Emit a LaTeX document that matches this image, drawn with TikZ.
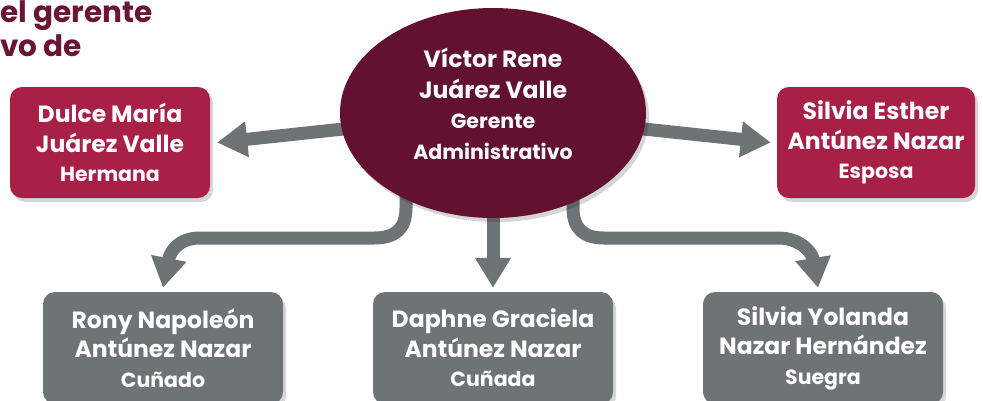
\documentclass[tikz,border=0pt]{standalone}
\usepackage{fontspec}
\setmainfont{Poppins}
\usetikzlibrary{arrows.meta,shapes.geometric,shadows,calc}
\definecolor{ceoC}{HTML}{621131}
\definecolor{redC}{HTML}{A81F48}
\definecolor{grayC}{HTML}{6E7476}
\definecolor{titleC}{HTML}{6B1534}
\newcommand{\rolefont}{\fontsize{20.5}{29}\selectfont}
\tikzset{
  shad/.style={drop shadow={shadow xshift=3pt,shadow yshift=-4pt,opacity=0.16,fill=black}},
  redbox/.style={shad,rectangle,rounded corners=12pt,fill=redC,text=white,align=center,inner sep=0pt,font=\bfseries\fontsize{23.5}{29.5}\selectfont},
  graybox/.style={shad,rectangle,rounded corners=12pt,fill=grayC,text=white,align=center,inner sep=0pt,minimum width=240pt,minimum height=112pt,font=\bfseries\fontsize{23.5}{29.5}\selectfont},
  ceoshape/.style={shad,ellipse,fill=ceoC,inner sep=0pt,minimum width=306pt,minimum height=210pt},
  ceotxt/.style={text=white,align=center,inner sep=0pt,font=\bfseries\fontsize{23.5}{30.5}\selectfont},
  conn/.style={draw=grayC,line width=13pt,-{Triangle[length=30pt 0,width=34pt 0]}},
  titletxt/.style={text=titleC,inner sep=0pt,font=\bfseries\fontsize{29.5}{30}\selectfont}
}
\begin{document}
\begin{tikzpicture}[x=1pt,y=-1pt]
\useasboundingbox (0,0) rectangle (983,400);
\node[titletxt,anchor=base west] (t1) at (0,22) {el gerente};
\node[titletxt,anchor=base west] (t2) at (0,56) {vo de};

\node[redbox,minimum width=200pt,minimum height=111pt] (dulce) at (110,142.5)
  {Dulce María\\Juárez Valle\hspace{0.6em}\\{\rolefont Hermana}};
\node[redbox,minimum width=198pt,minimum height=111pt] (esther) at (876,142.5)
  {Silvia Esther\\Antúnez Nazar\hspace{0.6em}\\{\rolefont Esposa}};
\node[graybox] (rony) at (163,348)
  {Rony Napoleón\\Antúnez Nazar\hspace{0.6em}\\{\rolefont Cuñado}};
\node[graybox] (daphne) at (493,348)
  {Daphne Graciela\\Antúnez Nazar\hspace{0.6em}\\{\rolefont Cuñada}};
\node[graybox] (yolanda) at (823,348)
  {Silvia Yolanda\\Nazar Hernández\hspace{0.6em}\\{\rolefont Suegra}};

\coordinate (ceoc) at (493,113);
\coordinate (l1) at (406,180);
\coordinate (r1) at (573,185);
\draw[conn] (ceoc) -- ([xshift=7pt]dulce.east);
\draw[conn] (ceoc) -- ([xshift=-6pt]esther.west);
\draw[conn] (ceoc) -- ([yshift=4pt]daphne.north);
\draw[conn] (l1) -- (406,208) .. controls (406,230) and (394,238) .. (374,238) -- (200,238) .. controls (178,238) and (170,252) .. ([yshift=4pt]rony.north);
\draw[conn] (r1) -- (573,208) .. controls (573,230) and (585,238) .. (604,238) -- (778,238) .. controls (800,238) and (812,252) .. ([xshift=-5pt,yshift=4pt]yolanda.north);

\node[ceoshape] (ceo) at (ceoc) {};
\node[ceotxt] (ceotext) at (493,104)
  {Víctor Rene\\Juárez Valle\\{\rolefont Gerente}\\{\rolefont Administrativo}};
\end{tikzpicture}
\end{document}
